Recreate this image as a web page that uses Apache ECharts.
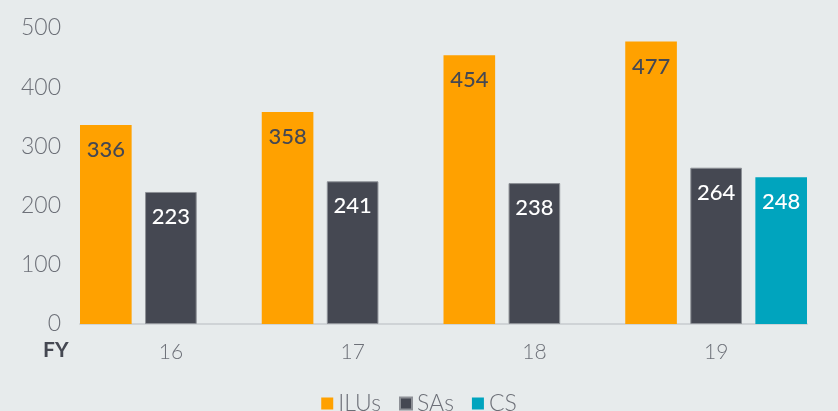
<!DOCTYPE html>
<html>
<head>
<meta charset="utf-8">
<script src="https://cdn.jsdelivr.net/npm/echarts@6/dist/echarts.min.js"></script>
<style>
  html, body { margin: 0; padding: 0; background: #e7ebec; }
  #chart { width: 838px; height: 411px; }
</style>
</head>
<body>
<div id="chart"></div>
<script>
// data
var years = ["16", "17", "18", "19"];
var ilus = [336, 358, 454, 477];
var sas = [223, 241, 238, 264];
var cs = [null, null, null, 248];
var yTicks = [0, 100, 200, 300, 400, 500];

var chartDom = document.getElementById("chart");
var myChart = echarts.init(chartDom);
var font = "Lato, 'Noto Sans', sans-serif";

function barLabel(color) {
  return {
    show: true,
    position: "insideTop",
    distance: 14,
    color: color,
    fontSize: 22,
    fontFamily: font,
    fontWeight: 500,
  };
}

var option = {
  backgroundColor: "#e7ebec",
  animation: false,
  grid: {
    left: 80,
    right: 31,
    top: 28,
    bottom: 87,
  },
  legend: {
    left: "center",
    top: 387,
    icon: "rect",
    itemWidth: 12,
    itemHeight: 12,
    itemGap: 18,
    textStyle: {
      color: "#6d7078",
      fontSize: 23,
      fontFamily: font,
      fontWeight: 300,
    },
    data: ["ILUs", "SAs", "CS"],
  },
  graphic: [
    {
      type: "text",
      left: 43,
      top: 340,
      style: {
        text: "FY",
        fill: "#454852",
        font: "bold 21px " + font,
      },
    },
  ],
  xAxis: {
    type: "category",
    data: years,
    axisTick: { show: false },
    axisLine: { lineStyle: { color: "#cfd3d6", width: 2 } },
    axisLabel: {
      color: "#6d7078",
      fontSize: 21,
      fontFamily: font,
      fontWeight: 300,
      margin: 18,
    },
  },
  yAxis: {
    type: "value",
    min: yTicks[0],
    max: yTicks[yTicks.length - 1],
    interval: 100,
    splitLine: { show: false },
    axisLine: { show: false },
    axisTick: { show: false },
    axisLabel: {
      color: "#6d7078",
      fontSize: 23,
      fontFamily: font,
      fontWeight: 300,
      margin: 19,
    },
  },
  series: [
    {
      name: "ILUs",
      type: "bar",
      barCategoryGap: "0%",
      barGap: "26%",
      itemStyle: { color: "#ffa100" },
      label: barLabel("#454852"),
      data: ilus,
    },
    {
      name: "SAs",
      type: "bar",
      itemStyle: { color: "#454852", borderColor: "#8d9096", borderWidth: 1 },
      label: barLabel("#ffffff"),
      data: sas,
    },
    {
      name: "CS",
      type: "bar",
      itemStyle: { color: "#00a4be" },
      label: barLabel("#ffffff"),
      data: cs,
    },
  ],
};

option && myChart.setOption(option);
</script>
</body>
</html>
